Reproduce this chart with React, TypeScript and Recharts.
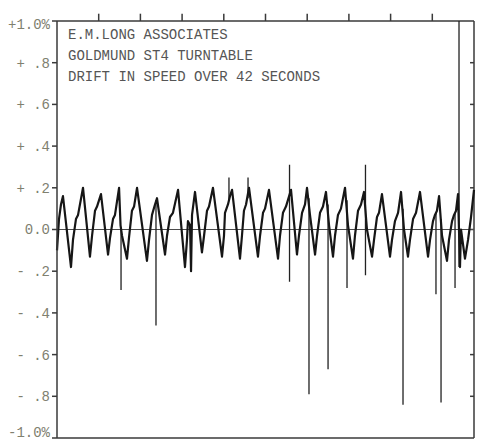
import React from 'react'
import { LineChart, Line, XAxis, YAxis, ReferenceLine } from 'recharts'

// time in seconds (42 s run) and speed drift in percent
const seconds = [
  0, 0.2, 0.4, 0.6, 1.41, 1.61, 1.91, 2.12, 2.62, 3.32, 3.53, 3.83, 4.03, 4.43,
  5.14, 5.34, 5.64, 5.84, 6.25, 6.4, 6.55, 7.05, 7.25, 7.55, 7.76, 8.06,
  9.06, 9.27, 9.57, 9.87, 10.07, 10.88, 11.08, 11.38, 11.68, 12.19,
  12.89, 13.09, 13.19, 13.4, 13.5, 13.6, 13.9, 14.6, 14.81, 15.11, 15.31, 15.71,
  16.62, 16.82, 16.92, 17.22, 17.42, 17.63, 18.43, 18.63, 18.83, 19.04,
  19.34, 20.24, 20.45, 20.75, 20.95, 21.35, 22.26, 22.46, 22.76, 23.06,
  23.57, 24.17, 24.37, 24.68, 24.98, 25.18, 25.48, 25.99,
  26.19, 26.49, 26.79, 27.09, 27.4, 27.8, 28.0, 28.3, 28.6, 29.01,
  29.31, 29.81, 30.01, 30.32, 30.62, 30.92, 31.22, 31.73, 31.93,
  32.23, 32.43, 32.73, 33.54, 33.74, 34.04, 34.35, 34.65, 34.95, 35.35,
  35.55, 35.86, 36.16, 36.56, 37.37, 37.57, 37.87, 38.07, 38.27, 38.48,
  38.78, 39.28, 39.48, 39.79, 39.99, 40.19, 40.39, 40.59,
  40.69, 41.09, 41.4, 41.7, 42,
]

const drift = [
  -0.1, 0.05, 0.12, 0.16, -0.18, -0.05, 0.05, 0.07, 0.2, -0.13, -0.03, 0.09, 0.11, 0.17,
  -0.12, -0.04, 0.05, 0.07, 0.2, 0.02, -0.03, -0.14, -0.04, 0.09, 0.11, 0.2,
  -0.15, -0.05, 0.07, 0.12, 0.15, -0.12, -0.03, 0.06, 0.08, 0.19,
  -0.18, -0.05, 0.04, 0.02, -0.2, 0.07, 0.18, -0.11, -0.03, 0.09, 0.11, 0.2,
  -0.13, -0.03, 0.08, 0.12, 0.16, 0.19, -0.14, -0.03, 0.09, 0.12,
  0.2, -0.13, -0.03, 0.08, 0.1, 0.19, -0.14, -0.03, 0.08, 0.11,
  0.19, -0.12, -0.03, 0.08, 0.12, 0.2, 0.07, -0.12,
  -0.03, 0.08, 0.11, 0.18, 0.02, -0.13, -0.03, 0.07, 0.1, 0.2,
  0.02, -0.14, -0.03, 0.09, 0.12, 0.18, 0.0, -0.13, -0.05,
  0.06, 0.08, 0.17, -0.13, -0.05, 0.04, 0.08, 0.18, 0.0, -0.13,
  -0.05, 0.05, 0.08, 0.18, -0.13, -0.05, 0.04, 0.07, 0.09, 0.16,
  -0.03, -0.15, -0.05, 0.04, 0.07, 0.09, 0.17, -0.18,
  0.0, -0.14, -0.05, 0.06, 0.19,
]

// single-sample glitches, drawn as thin vertical strokes
const spikeTimes = [6.45, 9.97, 17.32, 19.24, 23.42, 25.38, 27.3, 29.21, 31.07, 34.85, 38.17, 38.68, 40.09, 40.49]
const spikeHigh = [0.0, 0.14, 0.25, 0.25, 0.31, 0.15, 0.12, 0.14, 0.31, 0.1, 0.08, 0.05, 0.08, 1.0]
const spikeLow = [-0.29, -0.46, 0.14, 0.15, -0.25, -0.79, -0.67, -0.28, -0.22, -0.84, -0.31, -0.83, -0.28, -0.18]

const xTicks = [0, 4.2, 8.4, 12.6, 16.8, 21, 25.2, 29.4, 33.6, 37.8, 42]
const yTicks = [-1, -0.8, -0.6, -0.4, -0.2, 0, 0.2, 0.4, 0.6, 0.8, 1]
const yLabels = ['-1.0%', '- .8', '- .6', '- .4', '- .2', '0.0', '+ .2', '+ .4', '+ .6', '+ .8', '+1.0%']

const titleLines = ['E.M.LONG ASSOCIATES', 'GOLDMUND ST4 TURNTABLE', 'DRIFT IN SPEED OVER 42 SECONDS']

const data = seconds.map((t, i) => ({ t, v: drift[i] }))
const spikeData = spikeTimes.flatMap((t, i) => [
  { t, s: spikeHigh[i] },
  { t, s: spikeLow[i] },
  { t, s: null },
])

const frame = '#3a3a3a'
const mono = '"Liberation Mono", "DejaVu Sans Mono", monospace'

function YTick(props: any) {
  const { x, y, payload } = props
  const i = yTicks.indexOf(payload.value)
  // the end labels sit slightly inside the frame on the original plot
  const dy = payload.value === 1 ? 3 : payload.value === -1 ? -6 : 0
  return (
    <text x={x} y={y + dy} dy="0.355em" textAnchor="end" fill="#80806f" fontSize={14} fontFamily={mono}>
      {yLabels[i] ?? ''}
    </text>
  )
}

const inner = xTicks.slice(1, -1)

export default function App() {
  return (
    <div style={{ position: 'absolute', left: 0, top: 0, width: 478, height: 440, background: '#fff' }}>
      <LineChart width={478} height={440} data={data} margin={{ top: 21, right: 4, bottom: 2, left: 0 }}>
        <XAxis
          dataKey="t"
          type="number"
          domain={[0, 42]}
          ticks={xTicks}
          tick={false}
          height={1}
          mirror
          tickSize={4}
          stroke={frame}
          strokeWidth={1.5}
        />
        <YAxis
          type="number"
          domain={[-1, 1]}
          ticks={yTicks}
          interval={0}
          width={57}
          tickSize={5}
          stroke={frame}
          strokeWidth={1.5}
          tick={<YTick />}
        />
        {/* top and right edges of the frame, with their tick marks */}
        <ReferenceLine y={1} stroke={frame} strokeWidth={1.5} />
        <ReferenceLine x={42} stroke={frame} strokeWidth={1.5} />
        {inner.map((t) => (
          <ReferenceLine
            key={`t${t}`}
            segment={[{ x: t, y: 1 }, { x: t, y: 1.035 }]}
            ifOverflow="visible"
            stroke={frame}
            strokeWidth={1.5}
          />
        ))}
        {yTicks.slice(1, -1).map((v) => (
          <ReferenceLine
            key={`r${v}`}
            segment={[{ x: 41.6, y: v }, { x: 42, y: v }]}
            stroke={frame}
            strokeWidth={1.5}
          />
        ))}
        <ReferenceLine y={0} stroke="#4a4a4a" strokeWidth={1.2} />
        <Line
          data={spikeData}
          dataKey="s"
          type="linear"
          stroke="#222"
          strokeWidth={1.3}
          dot={false}
          activeDot={false}
          isAnimationActive={false}
        />
        <Line
          dataKey="v"
          type="linear"
          stroke="#161616"
          strokeWidth={2.2}
          strokeLinejoin="round"
          dot={false}
          isAnimationActive={false}
        />
      </LineChart>
      <div
        style={{
          position: 'absolute',
          left: 68,
          top: 25,
          fontFamily: mono,
          fontSize: 14,
          lineHeight: '21px',
          color: '#555',
          whiteSpace: 'pre',
        }}
      >
        {titleLines.map((s) => (
          <div key={s}>{s}</div>
        ))}
      </div>
    </div>
  )
}
